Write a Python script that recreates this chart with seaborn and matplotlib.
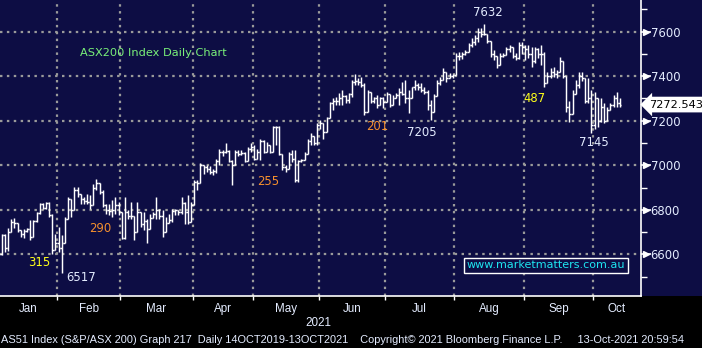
import matplotlib
matplotlib.use("Agg")
import matplotlib.pyplot as plt
import matplotlib.transforms as mtransforms
from matplotlib.patches import Rectangle
import numpy as np
import pandas as pd
import seaborn as sns

# ---------------- data ----------------
opens = [
    6640, 6600, 6685, 6630, 6700, 6745, 6740, 6710, 6690, 6705,
    6715, 6680, 6750, 6785, 6825, 6810, 6830, 6775, 6620, 6650,
    6630, 6650, 6760, 6850, 6800, 6890, 6870, 6850, 6840, 6835,
    6820, 6900, 6920, 6880, 6820, 6800, 6795, 6800, 6820, 6790,
    6675, 6790, 6770, 6770, 6700, 6790, 6735, 6750, 6715, 6765,
    6780, 6800, 6770, 6700, 6740, 6755, 6795, 6798, 6790, 6830,
    6790, 6745, 6820, 6925, 6920, 7000, 6990, 6985, 6970, 6975,
    7020, 7060, 7060, 7065, 7020, 7000, 7060, 7050, 7055, 7020,
    7075, 7080, 7030, 7060, 7110, 7060, 7090, 7060, 7170, 7170,
    7050, 6990, 6985, 7050, 7030, 6935, 7020, 7025, 7050, 7110,
    7130, 7100, 7180, 7190, 7150, 7210, 7280, 7290, 7290, 7300,
    7310, 7295, 7320, 7375, 7380, 7375, 7360, 7240, 7330, 7290,
    7300, 7270, 7300, 7285, 7320, 7270, 7300, 7315, 7330, 7320,
    7300, 7300, 7350, 7360, 7350, 7340, 7330, 7270, 7240, 7310,
    7370, 7385, 7420, 7390, 7400, 7405, 7490, 7490, 7500, 7510,
    7540, 7555, 7570, 7600, 7590, 7590, 7560, 7500, 7490, 7450,
    7490, 7495, 7520, 7530, 7490, 7480, 7540, 7530, 7520, 7500,
    7470, 7520, 7500, 7500, 7370, 7400, 7420, 7410, 7420, 7470,
    7400, 7260, 7230, 7320, 7360, 7400, 7390, 7290, 7300, 7180,
    7300, 7200, 7260, 7200, 7250, 7270, 7300, 7280,
]
highs = [
    6685, 6690, 6690, 6720, 6760, 6765, 6735, 6705, 6715, 6720,
    6755, 6755, 6790, 6830, 6830, 6835, 6835, 6783, 6693, 6723,
    6685, 6768, 6858, 6843, 6903, 6903, 6873, 6858, 6873, 6865,
    6918, 6940, 6903, 6888, 6828, 6828, 6843, 6858, 6835, 6790,
    6858, 6798, 6835, 6760, 6835, 6768, 6790, 6760, 6783, 6790,
    6858, 6805, 6798, 6768, 6783, 6805, 6805, 6798, 6858, 6835,
    6865, 6835, 6933, 6933, 7008, 7000, 7000, 6998, 6985, 7030,
    7075, 7070, 7098, 7068, 7025, 7068, 7068, 7068, 7060, 7083,
    7098, 7090, 7075, 7120, 7113, 7105, 7083, 7176, 7176, 7176,
    7045, 7000, 7060, 7068, 7068, 7023, 7030, 7060, 7120, 7143,
    7128, 7190, 7203, 7190, 7218, 7285, 7300, 7308, 7323, 7338,
    7315, 7323, 7383, 7408, 7390, 7398, 7368, 7338, 7308, 7308,
    7315, 7308, 7308, 7330, 7315, 7315, 7323, 7345, 7375, 7383,
    7338, 7353, 7383, 7368, 7368, 7350, 7338, 7293, 7320, 7383,
    7395, 7435, 7420, 7413, 7410, 7503, 7510, 7510, 7518, 7548,
    7570, 7585, 7615, 7615, 7632, 7585, 7548, 7518, 7488, 7503,
    7503, 7533, 7540, 7518, 7503, 7555, 7555, 7540, 7540, 7533,
    7533, 7525, 7540, 7510, 7420, 7435, 7443, 7428, 7488, 7465,
    7390, 7290, 7338, 7383, 7420, 7420, 7390, 7390, 7338, 7330,
    7300, 7300, 7278, 7263, 7278, 7315, 7330, 7300,
]
lows = [
    6590, 6595, 6610, 6615, 6700, 6720, 6700, 6680, 6675, 6700,
    6665, 6735, 6745, 6780, 6805, 6805, 6768, 6603, 6618, 6610,
    6517, 6678, 6760, 6768, 6798, 6858, 6828, 6828, 6828, 6805,
    6873, 6888, 6873, 6813, 6783, 6775, 6768, 6783, 6775, 6670,
    6670, 6760, 6760, 6663, 6708, 6723, 6708, 6651, 6715, 6768,
    6760, 6760, 6678, 6700, 6745, 6745, 6775, 6778, 6783, 6738,
    6738, 6790, 6835, 6888, 6925, 6960, 6970, 6960, 6958, 6965,
    7000, 7040, 7055, 7015, 6910, 7000, 7040, 7045, 7015, 7035,
    7060, 7023, 7030, 7023, 7053, 7060, 7053, 7060, 7090, 7045,
    6978, 6970, 7000, 7015, 6925, 6925, 7015, 7023, 7060, 7090,
    7090, 7090, 7165, 7120, 7158, 7218, 7248, 7270, 7270, 7270,
    7278, 7278, 7308, 7360, 7360, 7353, 7225, 7240, 7278, 7278,
    7255, 7270, 7255, 7308, 7263, 7278, 7308, 7270, 7315, 7278,
    7233, 7323, 7338, 7338, 7330, 7320, 7248, 7205, 7248, 7315,
    7360, 7390, 7375, 7390, 7390, 7413, 7473, 7475, 7495, 7510,
    7533, 7540, 7555, 7578, 7585, 7548, 7488, 7473, 7435, 7458,
    7488, 7503, 7510, 7480, 7473, 7475, 7500, 7473, 7480, 7443,
    7458, 7480, 7450, 7353, 7368, 7390, 7398, 7390, 7420, 7390,
    7240, 7195, 7240, 7345, 7345, 7380, 7278, 7278, 7145, 7165,
    7173, 7195, 7188, 7203, 7255, 7263, 7263, 7263,
]
closes = [
    6600, 6685, 6630, 6700, 6745, 6740, 6710, 6690, 6705, 6715,
    6680, 6750, 6785, 6825, 6810, 6830, 6775, 6620, 6650, 6630,
    6650, 6760, 6850, 6800, 6890, 6870, 6850, 6840, 6835, 6820,
    6900, 6920, 6880, 6820, 6800, 6795, 6800, 6820, 6790, 6675,
    6790, 6770, 6770, 6700, 6790, 6735, 6750, 6715, 6765, 6780,
    6800, 6770, 6700, 6740, 6755, 6795, 6798, 6790, 6830, 6790,
    6745, 6820, 6925, 6920, 7000, 6990, 6985, 6970, 6975, 7020,
    7060, 7060, 7065, 7020, 7000, 7060, 7050, 7055, 7020, 7075,
    7080, 7030, 7060, 7110, 7060, 7090, 7060, 7170, 7170, 7050,
    6990, 6985, 7050, 7030, 6935, 7020, 7025, 7050, 7110, 7130,
    7100, 7180, 7190, 7150, 7210, 7280, 7290, 7290, 7300, 7310,
    7295, 7320, 7375, 7380, 7375, 7360, 7240, 7330, 7290, 7300,
    7270, 7300, 7285, 7320, 7270, 7300, 7315, 7330, 7320, 7300,
    7300, 7350, 7360, 7350, 7340, 7330, 7270, 7240, 7310, 7370,
    7385, 7420, 7390, 7400, 7405, 7490, 7490, 7500, 7510, 7540,
    7555, 7570, 7600, 7590, 7590, 7560, 7500, 7490, 7450, 7490,
    7495, 7520, 7530, 7490, 7480, 7540, 7530, 7520, 7500, 7470,
    7520, 7500, 7500, 7370, 7400, 7420, 7410, 7420, 7470, 7400,
    7260, 7230, 7320, 7360, 7400, 7390, 7290, 7300, 7180, 7300,
    7200, 7260, 7200, 7250, 7270, 7300, 7280, 7272.543,
]
month_names = ["Jan", "Feb", "Mar", "Apr", "May", "Jun", "Jul", "Aug", "Sep", "Oct"]
month_starts = [0, 19, 39, 62, 81, 102, 123, 145, 167, 189]   # trading-day index of 1st day
year_label = "2021"
y_ticks = [6600, 6800, 7000, 7200, 7400, 7600]
last_price = 7272.543
chart_title = "ASX200 Index Daily Chart"
website = "www.marketmatters.com.au"
footer = ("AS51 Index (S&P/ASX 200) Graph 217  Daily 14OCT2019-13OCT2021    "
          "Copyright\u00a9 2021 Bloomberg Finance L.P.     13-Oct-2021 20:59:54")
note_texts = ["315", "6517", "290", "255", "201", "7205", "7632", "487", "7145"]

# ---------------- style ----------------
NAVY = "#0d0d44"
WHITE = "#ffffff"
LBLUE = "#e4ecff"
YELLOW = "#ffff1a"
ORANGE = "#f5902e"
GREEN = "#79f079"
CYAN = "#1ee6f0"
GRID = "#9a9a9a"

sns.set_theme(style="dark", rc={"axes.facecolor": NAVY, "figure.facecolor": "black"})
plt.rcParams["font.family"] = ["DejaVu Sans"]

df = pd.DataFrame({"day": np.arange(len(closes)), "open": opens, "high": highs,
                   "low": lows, "close": closes})

W, H = 702, 348
fig = plt.figure(figsize=(W / 100, H / 100), dpi=100, facecolor="black")
fig.patches.append(Rectangle((0, 52 / H), 1, 296 / H, transform=fig.transFigure,
                             facecolor=NAVY, edgecolor="none", zorder=-5))
ax = fig.add_axes([0, 52 / H, 641 / W, 296 / H])
ax.set_zorder(2)
ax.set_facecolor(NAVY)

x0, x1 = 0.42, 203.7
ax.set_xlim(x0, x1)
ax.set_ylim(6413, 7742)

# grid
dots = (0, (1.1, 2.0))
for yv in y_ticks:
    ax.axhline(yv, color=GRID, lw=1.6, ls=dots, zorder=1)
bounds = [s - 0.5 for s in month_starts[1:]]
for xb in bounds:
    ax.axvline(xb, color=GRID, lw=1.6, ls=dots, zorder=1)

# OHLC bars
lo = np.minimum(df["low"], np.minimum(df["open"], df["close"]))
hi = np.maximum(df["high"], np.maximum(df["open"], df["close"]))
ax.vlines(df["day"], lo, hi, color=WHITE, lw=1.05, zorder=3)
ax.hlines(df["open"], df["day"] - 0.5, df["day"], color=WHITE, lw=1.05, zorder=3)
ax.hlines(df["close"], df["day"], df["day"] + 0.5, color=WHITE, lw=1.05, zorder=3)
sns.despine(ax=ax, left=True, top=True, right=False, bottom=False)

# spines
for s in ["right", "bottom"]:
    ax.spines[s].set_color(WHITE)
    ax.spines[s].set_linewidth(1.2)
    ax.spines[s].set_visible(True)
ax.spines["left"].set_visible(False)
ax.spines["top"].set_visible(False)

# y axis on the right
ax.yaxis.tick_right()
ax.set_yticks(y_ticks)
ax.set_yticklabels([str(v) for v in y_ticks], color=LBLUE, fontsize=8.4)
ax.set_yticks([v + 100 for v in y_ticks] + [6500], minor=True)
ax.tick_params(axis="y", which="major", direction="out", length=7, width=1.2,
               color=WHITE, pad=0, right=True, left=False)
ax.tick_params(axis="y", which="minor", direction="out", length=4, width=1.0,
               color=WHITE, right=True, left=False)
tr_y = mtransforms.blended_transform_factory(ax.transAxes, ax.transData)
ax.plot([1.0 + 5 / 641] * len(y_ticks), y_ticks, ls="none", marker=">", ms=4.5,
        color=WHITE, transform=tr_y, clip_on=False, zorder=5)

# x axis months
ax.set_xticks(bounds)
ax.set_xticklabels([])
centers = []
edges = [x0] + bounds + [x1]
for k in range(len(month_names)):
    centers.append((edges[k] + edges[k + 1]) / 2)
ax.set_xticks(centers, minor=True)
ax.set_xticklabels(month_names, minor=True, color=LBLUE, fontsize=8.4,
                   family=["Liberation Sans", "DejaVu Sans"])
ax.tick_params(axis="x", which="major", direction="out", length=3, width=1.0,
               color=WHITE, bottom=True)
ax.tick_params(axis="x", which="minor", length=0, pad=5)
ax.grid(False)

# last price box
ax.annotate(f"{last_price:.3f}", xy=(1.0, last_price), xycoords=tr_y,
            xytext=(1.0 + 8 / 641, last_price), textcoords=tr_y,
            ha="left", va="center", fontsize=8.2, color="black",
            bbox=dict(boxstyle="larrow,pad=0.25", facecolor=WHITE, edgecolor="none"),
            annotation_clip=False, zorder=6)

# annotations
ax.text(25.8, 7504, chart_title, color=GREEN, fontsize=8.2, ha="left", va="center")
note_pos = [(12.8, 6565), (26.1, 6498), (32.1, 6718), (85.4, 6929), (120.0, 7172),
            (134.3, 7145), (155.2, 7684), (169.8, 7298), (188.8, 7100)]
note_col = [YELLOW, LBLUE, ORANGE, ORANGE, ORANGE, LBLUE, LBLUE, YELLOW, LBLUE]
for t, (xx, yy), c in zip(note_texts, note_pos, note_col):
    ax.text(xx, yy, t, color=c, fontsize=8.4, ha="center", va="center", zorder=6)

ax.text(173.6, 6550, website, color=CYAN, fontsize=8.0, ha="center", va="center",
        zorder=6, bbox=dict(boxstyle="square,pad=0.25", facecolor=NAVY,
                            edgecolor=WHITE, linewidth=1.0))

# bottom texts
fig.text(318 / W, 1 - 323 / H, year_label, color=LBLUE, fontsize=8.4,
         ha="center", va="center", family=["Liberation Sans", "DejaVu Sans"])
fig.text(1 / W, 1 - 340 / H, footer, color=LBLUE, fontsize=7.9,
         ha="left", va="center", family=["Liberation Sans", "DejaVu Sans"])

fig.savefig("out.png", dpi=100, facecolor="black")
